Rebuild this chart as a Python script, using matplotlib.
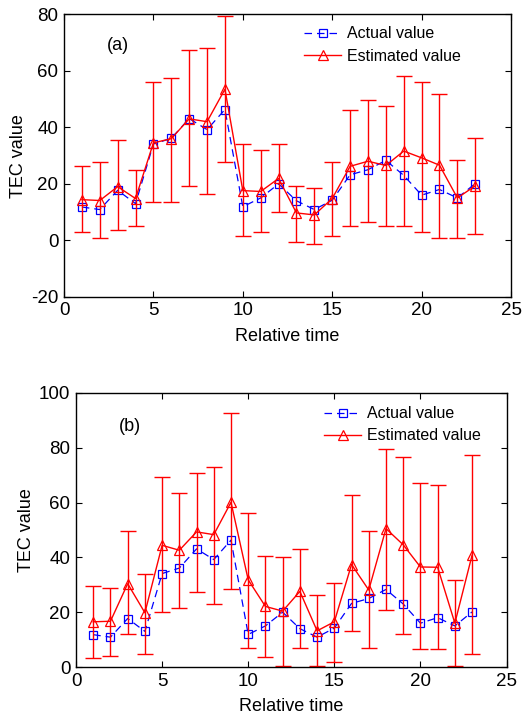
import matplotlib
matplotlib.use('Agg')
import matplotlib.pyplot as plt
import numpy as np

plt.rcParams['font.family'] = ['Liberation Sans', 'DejaVu Sans']
plt.rcParams['axes.unicode_minus'] = False

# relative time steps
t = list(range(1, 24))

# actual TEC values (same in both panels)
actual = [11.8, 10.9, 17.7, 13.0, 34.1, 36.1, 43.1, 39.2, 46.3, 11.9, 15.0, 20.0,
          14.0, 10.9, 14.2, 23.2, 25.0, 28.3, 23.0, 16.0, 18.0, 15.0, 20.1]

# panel (a): estimated value and error bar bounds
est_a = [14.4, 14.1, 19.0, 14.8, 34.5, 36.0, 43.0, 42.0, 53.5, 17.6, 17.3, 21.9,
         9.7, 9.0, 14.8, 26.2, 28.0, 26.5, 31.6, 29.2, 26.6, 15.0, 19.3]
lo_a = [3.1, 0.8, 3.7, 5.1, 13.6, 13.6, 19.3, 16.4, 27.8, 1.5, 3.1, 10.1,
        -0.5, -1.2, 1.5, 5.1, 6.5, 5.1, 5.1, 3.1, 0.8, 0.8, 2.4]
hi_a = [26.3, 27.6, 35.5, 24.9, 56.0, 57.4, 67.4, 68.1, 79.5, 34.0, 32.0, 34.0,
        19.4, 18.6, 27.8, 46.2, 49.7, 47.6, 58.2, 56.0, 51.9, 28.3, 36.2]

# panel (b): estimated value and error bar bounds
est_b = [16.5, 16.7, 30.4, 19.8, 44.4, 42.6, 49.3, 48.3, 60.1, 31.8, 22.1, 20.4,
         27.6, 13.2, 16.5, 37.4, 28.1, 50.5, 44.6, 36.5, 36.4, 16.0, 40.8]
lo_b = [3.4, 4.2, 12.2, 4.9, 20.1, 21.6, 27.5, 23.1, 28.3, 7.0, 3.6, 0.3,
        7.0, 0.3, 1.9, 13.0, 7.0, 20.9, 12.2, 6.4, 6.4, 0.3, 4.9]
hi_b = [29.7, 29.0, 49.5, 34.1, 69.3, 63.5, 70.8, 73.0, 92.8, 56.2, 40.5, 40.0,
        43.0, 26.1, 30.5, 62.9, 49.6, 79.6, 76.6, 67.1, 66.5, 31.9, 77.4]


def draw_panel(ax, est, lo, hi, ylim, yticks, tag, tag_xy, leg_anchor):
    est = np.array(est)
    yerr = [est - np.array(lo), np.array(hi) - est]
    ax.plot(t, actual, color='blue', linestyle=(0, (6, 4)), linewidth=0.9,
            marker='s', markersize=6, markerfacecolor='none',
            markeredgecolor='blue', markeredgewidth=0.9, label='Actual value')
    ax.errorbar(t, est, yerr=yerr, fmt='none', ecolor='red', elinewidth=1.0,
                capsize=6, capthick=1.0)
    ax.plot(t, est, color='red', linewidth=1.0, marker='^', markersize=7.5,
            markerfacecolor='none', markeredgecolor='red', markeredgewidth=0.9,
            label='Estimated value')
    ax.set_xlim(0, 25)
    ax.set_ylim(*ylim)
    ax.set_xticks([0, 5, 10, 15, 20, 25])
    ax.set_yticks(yticks)
    ax.tick_params(direction='in', top=True, right=True, labelsize=13.5,
                   length=4, width=0.8, pad=4)
    for s in ax.spines.values():
        s.set_linewidth(1.0)
    ax.set_xlabel('Relative time', fontsize=13, labelpad=6)
    ax.set_ylabel('TEC value', fontsize=13, labelpad=3)
    ax.text(tag_xy[0], tag_xy[1], tag, fontsize=13, ha='center', va='center')
    ax.legend(loc='upper left', bbox_to_anchor=leg_anchor, frameon=False,
              fontsize=11.5, handlelength=2.3, handletextpad=0.4,
              labelspacing=0.45, borderaxespad=0)


fig = plt.figure(figsize=(5.29, 7.17), dpi=100)
ax1 = fig.add_axes([0.121, 0.586, 0.845, 0.394])
ax2 = fig.add_axes([0.1437, 0.0697, 0.8138, 0.3823])

draw_panel(ax1, est_a, lo_a, hi_a, (-20, 80), [-20, 0, 20, 40, 60, 80],
           '(a)', (3.0, 69), (0.523, 0.98))
draw_panel(ax2, est_b, lo_b, hi_b, (0, 100), [0, 20, 40, 60, 80, 100],
           '(b)', (3.15, 87.6), (0.562, 0.975))

fig.savefig('out.png', dpi=100)
